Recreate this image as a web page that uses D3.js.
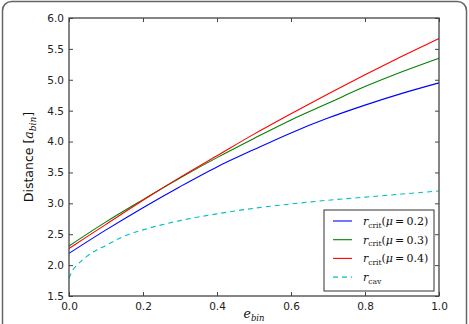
<!doctype html>
<html>
<head>
	<style>
		body{margin:0;background:#fff;}
		svg{display:block;}
		.tick text{font-family:"DejaVu Sans",sans-serif;font-size:10.5px;fill:#222;}
		.math{font-family:"DejaVu Serif","Liberation Serif",serif;}
	</style>
</head>
<body>
	<div id="chart"></div>
	<script src="https://d3js.org/d3.v7.min.js"></script>
	<script>

		var W = 469, H = 324;

		// eccentricity of the binary
		var ecc = [0, 0.1, 0.2, 0.3, 0.4, 0.5, 0.6, 0.7, 0.8, 0.9, 1.0];
		var critMu02 = [2.19, 2.57, 2.93, 3.27, 3.59, 3.87, 4.14, 4.38, 4.59, 4.78, 4.95];
		var critMu03 = [2.31, 2.70, 3.06, 3.41, 3.74, 4.05, 4.35, 4.62, 4.89, 5.13, 5.35];
		var critMu04 = [2.27, 2.66, 3.05, 3.42, 3.77, 4.12, 4.45, 4.77, 5.08, 5.38, 5.67];

		// cavity radius, sampled finer near e = 0
		var eccCav = [0, 0.01, 0.02, 0.05, 0.1, 0.15, 0.2, 0.3, 0.4, 0.5, 0.6, 0.7, 0.8, 0.9, 1.0];
		var cav = [1.79, 1.92, 1.99, 2.15, 2.32, 2.47, 2.57, 2.72, 2.83, 2.92, 2.99, 3.05, 3.10, 3.15, 3.20];

		var xTicks = [0, 0.2, 0.4, 0.6, 0.8, 1.0];
		var yTicks = [1.5, 2.0, 2.5, 3.0, 3.5, 4.0, 4.5, 5.0, 5.5, 6.0];

		var series = [
			{mu: '0.2', xs: ecc, ys: critMu02, color: '#0000ff', dash: null},
			{mu: '0.3', xs: ecc, ys: critMu03, color: '#008000', dash: null},
			{mu: '0.4', xs: ecc, ys: critMu04, color: '#ff0000', dash: null},
			{mu: null, xs: eccCav, ys: cav, color: '#00bfbf', dash: '5,4'}
		];

		var margin = {left: 69, top: 18, right: 30, bottom: 28};
		var pw = W - margin.left - margin.right;
		var ph = H - margin.top - margin.bottom;

		var x = d3.scaleLinear().domain([0, 1]).range([0, pw]);
		var y = d3.scaleLinear().domain([1.5, 6.0]).range([ph, 0]);

		var svg = d3.select('#chart').append('svg')
			.attr('width', W)
			.attr('height', H);

		// outer rounded frame
		svg.append('rect')
			.attr('x', 2.5).attr('y', 1.5)
			.attr('width', W - 5).attr('height', H + 10)
			.attr('rx', 9)
			.attr('fill', 'none')
			.attr('stroke', '#666')
			.attr('stroke-width', 1.5);

		var g = svg.append('g')
			.attr('transform', 'translate(' + margin.left + ',' + margin.top + ')');

		var fmt = d3.format('.1f');

		function styleAxis(sel, labels) {
			sel.select('.domain').remove();
			sel.selectAll('.tick line').attr('stroke', '#444');
			if (!labels) sel.selectAll('.tick text').remove();
		}

		g.append('g').attr('transform', 'translate(0,' + ph + ')')
			.call(d3.axisBottom(x).tickValues(xTicks).tickFormat(fmt).tickSizeInner(-4).tickPadding(7))
			.call(styleAxis, true);
		g.append('g')
			.call(d3.axisTop(x).tickValues(xTicks).tickSizeInner(-4))
			.call(styleAxis, false);
		g.append('g')
			.call(d3.axisLeft(y).tickValues(yTicks).tickFormat(fmt).tickSizeInner(-4).tickPadding(5))
			.call(styleAxis, true);
		g.append('g').attr('transform', 'translate(' + pw + ',0)')
			.call(d3.axisRight(y).tickValues(yTicks).tickSizeInner(-4))
			.call(styleAxis, false);

		var line = d3.line()
			.x(function(d){ return x(d[0]); })
			.y(function(d){ return y(d[1]); })
			.curve(d3.curveMonotoneX);

		g.selectAll('path.series')
			.data(series)
			.enter().append('path')
			.attr('class', 'series')
			.attr('d', function(s){ return line(d3.zip(s.xs, s.ys)); })
			.attr('fill', 'none')
			.attr('stroke', function(s){ return s.color; })
			.attr('stroke-width', 1.1)
			.attr('stroke-dasharray', function(s){ return s.dash; });

		// plot frame
		g.append('rect')
			.attr('width', pw).attr('height', ph)
			.attr('fill', 'none')
			.attr('stroke', '#444')
			.attr('stroke-width', 1.3);

		// legend
		var lg = g.append('g').attr('transform', 'translate(' + (324 - margin.left) + ',' + (210 - margin.top) + ')');
		lg.append('rect')
			.attr('width', 110).attr('height', 81)
			.attr('fill', '#fff')
			.attr('stroke', '#333')
			.attr('stroke-width', 1);

		var item = lg.selectAll('g.item')
			.data(series)
			.enter().append('g')
			.attr('class', 'item')
			.attr('transform', function(d, i){ return 'translate(0,' + (11 + i * 18.7) + ')'; });

		item.append('line')
			.attr('x1', 9).attr('x2', 28)
			.attr('stroke', function(s){ return s.color; })
			.attr('stroke-width', 1.1)
			.attr('stroke-dasharray', function(s){ return s.dash; });

		var lt = item.append('text')
			.attr('class', 'math')
			.attr('x', 39).attr('y', 4)
			.attr('font-size', 11)
			.attr('fill', '#111');
		lt.append('tspan').attr('font-style', 'italic').text('r');
		lt.append('tspan').attr('font-size', 7.5).attr('dy', 2.5)
			.text(function(s){ return s.mu ? 'crit' : 'cav'; });
		lt.filter(function(s){ return s.mu; }).each(function(s){
			var t = d3.select(this);
			t.append('tspan').attr('dy', -2.5).text('(');
			t.append('tspan').attr('font-style', 'italic').text('\u03bc');
			t.append('tspan').text('\u2009=\u2009' + s.mu + ')');
		});

		// axis labels
		var xl = svg.append('text')
			.attr('class', 'math')
			.attr('x', margin.left + pw / 2)
			.attr('y', 318)
			.attr('text-anchor', 'middle')
			.attr('font-size', 12.5)
			.attr('fill', '#111');
		xl.append('tspan').attr('font-style', 'italic').text('e');
		xl.append('tspan').attr('font-style', 'italic').attr('font-size', 8.5).attr('dy', 2.5).text('bin');

		var yl = svg.append('text')
			.attr('transform', 'translate(33,' + (margin.top + ph / 2) + ') rotate(-90)')
			.attr('text-anchor', 'middle')
			.attr('font-family', '"DejaVu Sans",sans-serif')
			.attr('font-size', 12.5)
			.attr('fill', '#111');
		yl.append('tspan').text('Distance [');
		yl.append('tspan').attr('class', 'math').attr('font-style', 'italic').text('a');
		yl.append('tspan').attr('class', 'math').attr('font-style', 'italic').attr('font-size', 9).attr('dy', 3).text('bin');
		yl.append('tspan').attr('dy', -3).text(']');

	</script>
</body>
</html>
